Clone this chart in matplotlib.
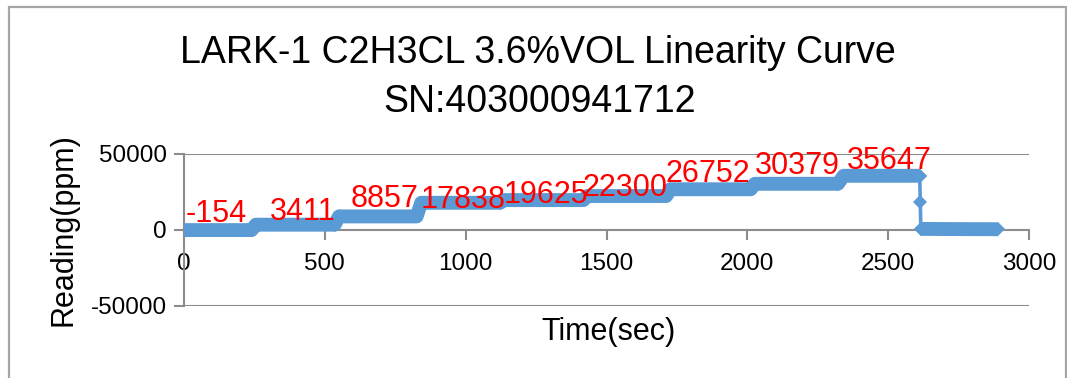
import matplotlib
matplotlib.use("Agg")
import matplotlib.pyplot as plt
from matplotlib.patches import Rectangle

# ---------------- data ----------------
# plateau readings (ppm) and the time at which each plateau starts / ends (s)
time_sec = [0, 240, 255, 535, 550, 826, 842, 1122, 1137, 1418, 1432, 1712,
            1727, 2012, 2027, 2322, 2342, 2612]
reading_ppm = [-154, -154, 3411, 3411, 8857, 8857, 17838, 17838, 19625, 19625,
               22300, 22300, 26752, 26752, 30379, 30379, 35647, 35647]
# gas removed: fast drop and recovery to zero
drop_time_sec = [2612, 2614, 2616]
drop_reading_ppm = [35647, 18500, 600]
tail_time_sec = [2616, 2890]
tail_reading_ppm = [600, 400]

label_values = [-154, 3411, 8857, 17838, 19625, 22300, 26752, 30379, 35647]

x_ticks = [0, 500, 1000, 1500, 2000, 2500, 3000]
y_ticks = [-50000, 0, 50000]

title_line1 = "LARK-1 C2H3CL 3.6%VOL Linearity Curve"
title_line2 = "SN:403000941712"
x_title = "Time(sec)"
y_title = "Reading(ppm)"

# ---------------- layout (positions of data labels) ----------------
label_x = [114, 423, 713, 991, 1285, 1566, 1861, 2176, 2503]
label_base_y = [5480, 6605, 15390, 14530, 17830, 22000, 31240, 37000, 40290]

W, H = 1067, 378
fig = plt.figure(figsize=(W / 100, H / 100), dpi=100)
fig.patch.set_facecolor("white")

# outer chart frame
fig.patches.append(Rectangle((9 / W, -0.05), (1066 - 9) / W, 1.05 - 7 / H,
                             transform=fig.transFigure, fill=False,
                             edgecolor="#a6a6a6", linewidth=1.6))

ax = fig.add_axes([184 / W, (H - 305.7) / H, 845 / W, 151.7 / H])
ax.set_xlim(0, 3000)
ax.set_ylim(-50000, 50000)

blue = "#5b9bd5"
grid_c = "#8c8c8c"

# thick band formed by dense markers
ax.plot(time_sec, reading_ppm, color=blue, lw=10, solid_capstyle="butt",
        solid_joinstyle="round", marker="D", markersize=7.6, mew=0, zorder=3)
ax.plot(drop_time_sec, drop_reading_ppm, color=blue, lw=2.6, marker="D",
        markersize=7.0, mew=0, zorder=3)
ax.plot(tail_time_sec, tail_reading_ppm, color=blue, lw=10, solid_capstyle="butt",
        marker="D", markersize=7.6, mew=0, zorder=3)

for v, lx, ly in zip(label_values, label_x, label_base_y):
    ax.text(lx, ly, str(v), color="red", fontsize=22, ha="center",
            va="baseline", family="Liberation Sans", zorder=5)

# axes styling
for s in ["top", "right"]:
    ax.spines[s].set_visible(False)
ax.spines["bottom"].set_position(("data", 0))
ax.spines["bottom"].set_color(grid_c)
ax.spines["bottom"].set_linewidth(1.5)
ax.spines["left"].set_color(grid_c)
ax.spines["left"].set_linewidth(1.5)

ax.set_xticks(x_ticks)
ax.set_yticks(y_ticks)
ax.set_xticklabels([str(t) for t in x_ticks])
ax.set_yticklabels([str(t) for t in y_ticks])
ax.tick_params(axis="x", direction="out", length=7, width=1.5, color=grid_c,
               pad=9.5, labelsize=17.5)
ax.tick_params(axis="y", direction="out", length=7, width=1.5, color=grid_c,
               pad=5.5, labelsize=17.5)
for lab in ax.get_xticklabels() + ax.get_yticklabels():
    lab.set_family("Liberation Sans")
for y in [-50000, 50000]:
    ax.axhline(y, color=grid_c, lw=1.5, zorder=1)

# titles
fig.text(538 / W, 1 - 62.7 / H, title_line1, ha="center", va="baseline",
         fontsize=27, family="Liberation Sans")
fig.text(540 / W, 1 - 111.7 / H, title_line2, ha="center", va="baseline",
         fontsize=27, family="Liberation Sans")
fig.text(608 / W, 1 - 340 / H, x_title, ha="center", va="baseline",
         fontsize=22, family="Liberation Sans")
fig.text(63.7 / W, 1 - 230 / H, y_title, ha="center", va="center",
         rotation=90, fontsize=22, family="Liberation Sans")

fig.savefig("out.png", dpi=100, facecolor="white")
